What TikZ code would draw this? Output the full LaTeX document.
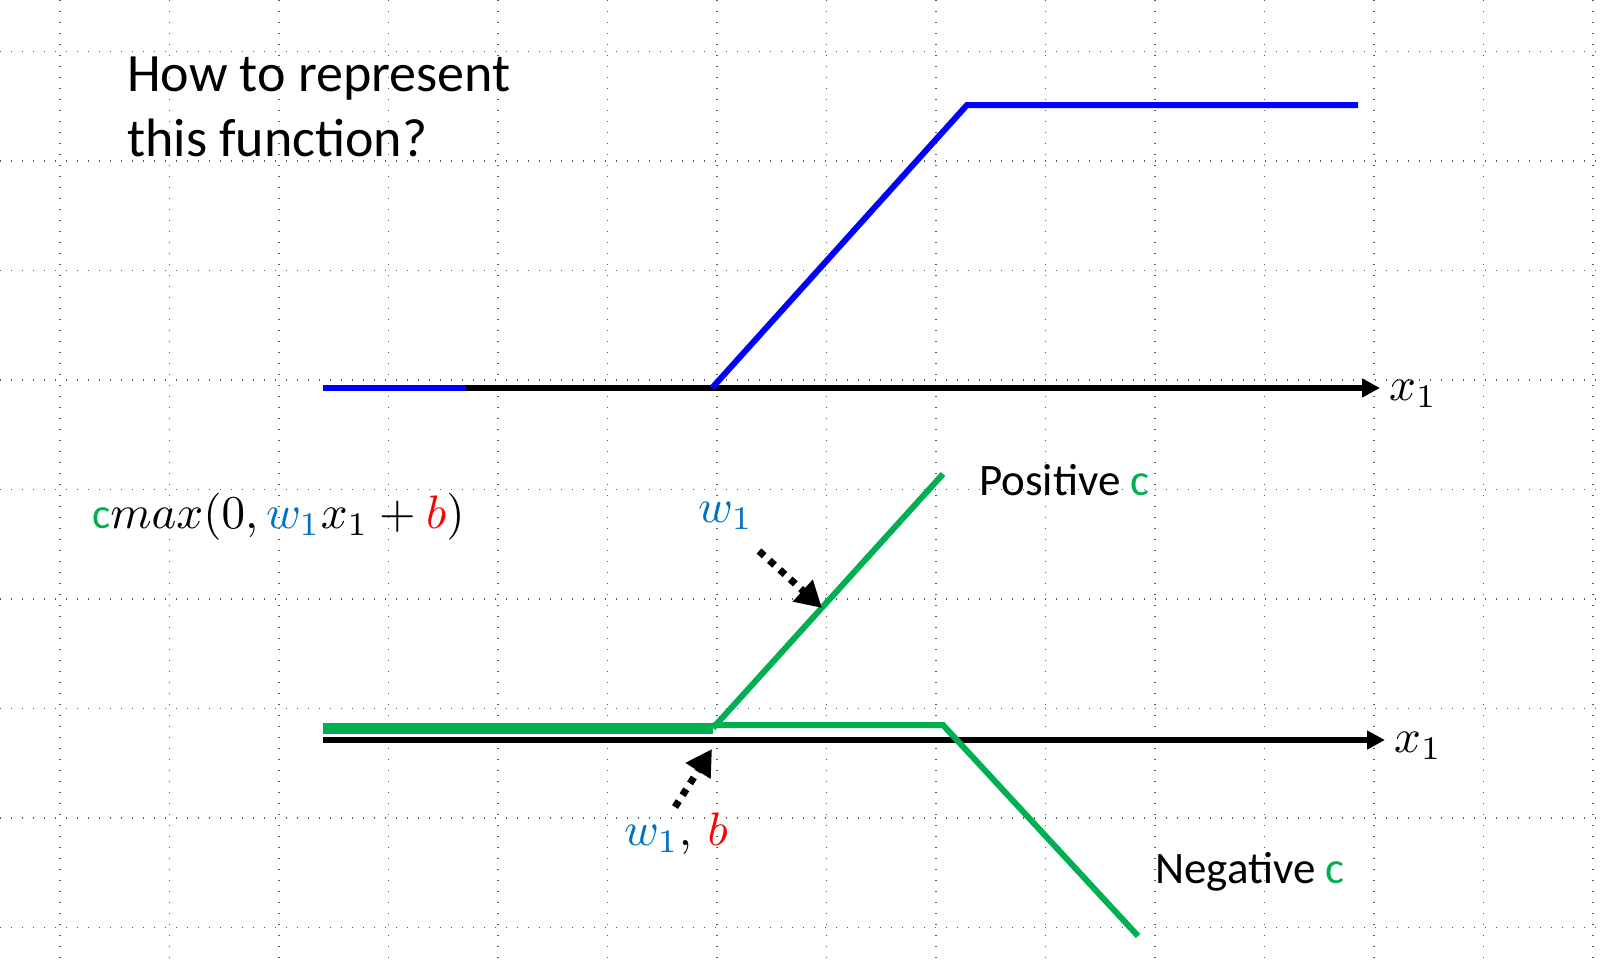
\documentclass[tikz,border=0pt]{standalone}
\usepackage{fontspec}
\setmainfont{Carlito}
\usepackage{graphicx}
\usepackage{tikz}
\usetikzlibrary{arrows.meta}

\definecolor{cgreen}{RGB}{0,176,80}
\definecolor{wblue}{RGB}{0,112,192}
\definecolor{fblue}{RGB}{0,0,255}
\newcommand{\bigmath}[1]{\scalebox{4.7}{\normalsize$#1$}}

\begin{document}
\begin{tikzpicture}[x=1pt,y=-1pt,
  gridline/.style={gray!70!black,line width=1.3pt,dash pattern=on 1.4pt off 9.6pt},
  axis/.style={line width=5.5pt,-{Triangle[length=18pt,width=18pt]}},
  fline/.style={fblue,line width=6pt},
  gline/.style={cgreen,line width=6pt},
  dotarrow/.style={line width=7pt,dash pattern=on 7pt off 7pt,-{Triangle[length=26pt,width=28pt]}},
  lbl/.style={inner sep=0pt,font=\fontsize{43}{50}\selectfont}]
					\useasboundingbox (0,0) rectangle (1606,964);
					% background grid
					\foreach \i in {0,...,14}
					  \draw [gridline] (60+109.5*\i,0) -- (60+109.5*\i,964);
					\foreach \j in {0,...,8}
					  \draw [gridline] (0,51.5+109.5*\j) -- (1606,51.5+109.5*\j);

					\node (q) [inner sep=0pt,anchor=north west,align=left,font=\fontsize{54}{65}\selectfont] at (127,57) {How to represent\\this function?};

					% upper plot
					\coordinate (a0) at (323,388);
					\coordinate (a1) at (1380,388);
					\coordinate (b0) at (466,388);
					\coordinate (b1) at (712,388);
					\coordinate (b2) at (967,105);
					\coordinate (b3) at (1358,105);
					\draw [axis] (a0) -- (a1);
					\draw [fline] (a0) -- (b0);
					\draw [fline,line join=miter] (b1) -- (b2) -- (b3);
					\node (x1a) [lbl,anchor=base west] at (1389,400) {\bigmath{x_1}};

					% lower plot
					\coordinate (c0) at (323,740);
					\coordinate (c1) at (1385,740);
					\coordinate (g0) at (323,728);
					\coordinate (g1) at (713,728);
					\coordinate (g2) at (943,474);
					\coordinate (g3) at (713,725);
					\coordinate (g4) at (943,725);
					\coordinate (g5) at (1138,936);
					\draw [axis] (c0) -- (c1);
					\draw [cgreen,line width=11pt] (g0) -- (g1);
					\draw [gline] (g1) -- (g2);
					\draw [gline,line join=miter] (g3) -- (g4) -- (g5);
					\node (x1b) [lbl,anchor=base west] at (1394,752) {\bigmath{x_1}};

					\node (f) [lbl,anchor=base west] at (92,528) {{\color{cgreen}c}\bigmath{max(0,{\color{wblue}w_1}x_1+{\color{red}b})}};
					\node (pos) [lbl,anchor=base west,font=\fontsize{45}{54}\selectfont] at (979,495) {Positive {\color{cgreen}c}};
					\node (neg) [lbl,anchor=base west,font=\fontsize{45}{54}\selectfont] at (1155,883) {Negative {\color{cgreen}c}};
					\node (w) [lbl,anchor=base west] at (698,522) {\bigmath{\color{wblue}w_1}};
					\node (wb) [lbl,anchor=base west] at (624,845) {\bigmath{{\color{wblue}w_1},\,{\color{red}b}}};

					\coordinate (p0) at (759,551);
					\coordinate (p1) at (822,608);
					\coordinate (r0) at (675,807);
					\coordinate (r1) at (712,749);
					\path (p0) edge [dotarrow] (p1);
					\path (r0) edge [dotarrow] (r1);
\end{tikzpicture}
\end{document}
